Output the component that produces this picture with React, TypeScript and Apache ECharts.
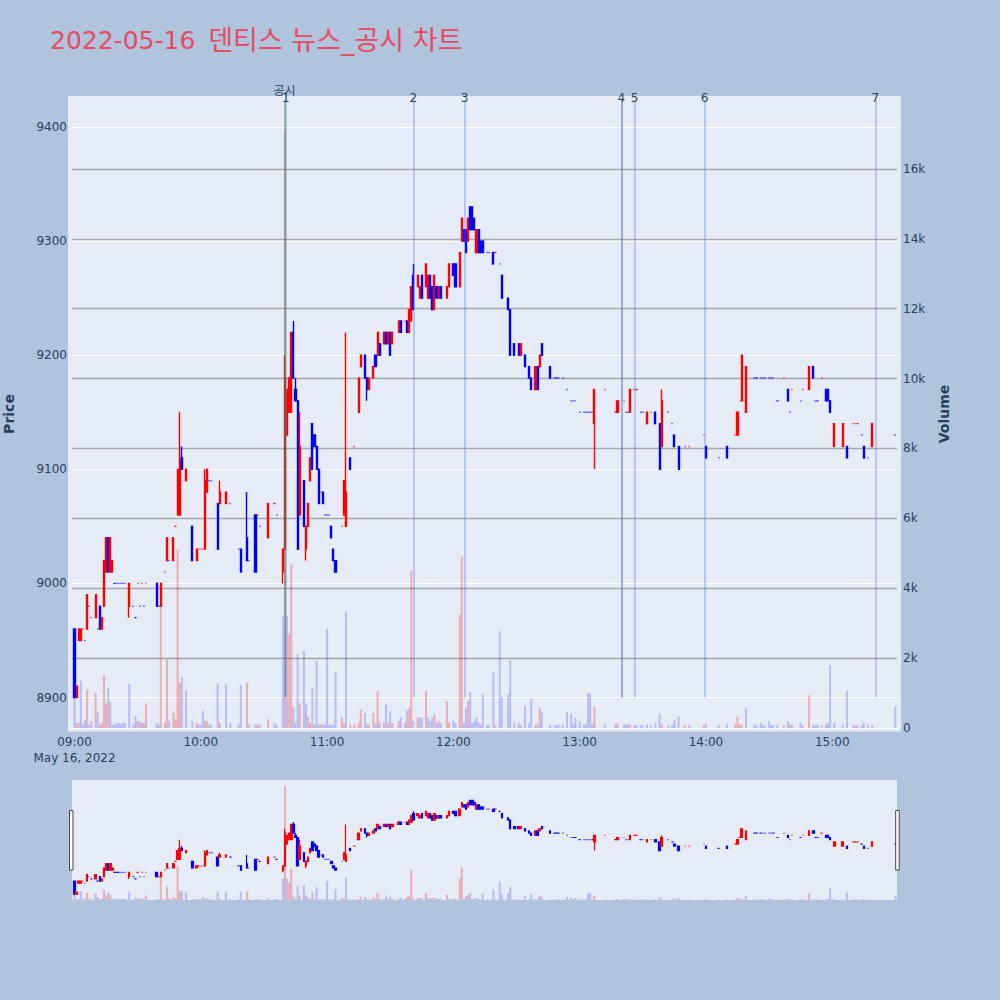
import { useEffect, useRef } from "react";
import * as echarts from "echarts";

const TITLE_DATE = "2022-05-16";
const TITLE_REST = "덴티스 뉴스_공시 차트";
const DATE_LABEL = "May 16, 2022";
const FONT = '"DejaVu Sans", "Noto Sans CJK KR", sans-serif';

// minute candles (HH:MM)
const times = [
  "09:00","09:01","09:02","09:03","09:04","09:05","09:06","09:07","09:08","09:10","09:11","09:12","09:13","09:14","09:15","09:16","09:17","09:18","09:19","09:20","09:21","09:22","09:23","09:24","09:26","09:28","09:29","09:30","09:31","09:32","09:33","09:34","09:39","09:40","09:41","09:43","09:44","09:45","09:47","09:48","09:49","09:50","09:51","09:53","09:56","09:58","09:59",
  "10:00","10:01","10:02","10:03","10:04","10:05","10:08","10:09","10:12","10:14","10:18","10:19","10:22","10:23","10:26","10:27","10:28","10:32","10:35","10:36","10:39","10:40","10:41","10:42","10:43","10:44","10:45","10:46","10:47","10:49","10:50","10:51","10:52","10:53","10:54","10:55","10:56","10:57","10:58","10:59",
  "11:00","11:01","11:02","11:03","11:04","11:07","11:08","11:09","11:11","11:13","11:15","11:16","11:18","11:19","11:20","11:22","11:23","11:24","11:25","11:27","11:28","11:29","11:30","11:31","11:34","11:35","11:37","11:38","11:39","11:40","11:41","11:43","11:44","11:45","11:47","11:48","11:49","11:50","11:51","11:52","11:53","11:54","11:57","11:58",
  "12:00","12:01","12:03","12:04","12:05","12:06","12:07","12:08","12:09","12:10","12:11","12:12","12:13","12:14","12:16","12:17","12:19","12:20","12:22","12:23","12:26","12:27","12:29","12:31","12:32","12:34","12:36","12:37","12:39","12:40","12:41","12:42","12:46","12:48","12:49","12:50","12:52","12:54","12:56","12:57","12:58",
  "13:00","13:02","13:03","13:04","13:05","13:06","13:07","13:12","13:17","13:18","13:21","13:22","13:23","13:24","13:26","13:27","13:29","13:30","13:32","13:34","13:36","13:38","13:39","13:42","13:44","13:45","13:47","13:50","13:52","13:59",
  "14:00","14:06","14:10","14:14","14:15","14:16","14:17","14:19","14:23","14:24","14:26","14:27","14:28","14:30","14:31","14:32","14:34","14:37","14:39","14:40","14:41","14:45","14:46","14:49","14:51","14:52","14:53","14:55","14:57","14:58","14:59",
  "15:01","15:05","15:07","15:10","15:11","15:12","15:14","15:15","15:17","15:19","15:30",
];

const opens = [
  8960,8900,8950,8950,8960,8950,8960,8980,8970,8970,8960,8980,8960,8980,9010,9040,9010,9010,9000,9000,9000,9000,9000,9000,8980,8980,8970,9000,8980,9000,8980,9000,9000,8980,8980,9010,9020,9020,9020,9050,9060,9060,9110,9090,9050,9020,9030,
  9030,9030,9030,9080,9090,9090,9070,9070,9070,9070,9030,9030,9040,9020,9060,9060,9050,9040,9070,9060,9010,9030,9130,9150,9150,9220,9170,9160,9060,9090,9030,9050,9090,9140,9130,9120,9100,9080,9080,9060,
  9060,9060,9050,9030,9020,9050,9060,9050,9110,9120,9150,9190,9200,9180,9170,9180,9200,9200,9210,9210,9220,9210,9220,9210,9220,9230,9230,9230,9220,9230,9270,9260,9250,9270,9260,9250,9270,9260,9240,9260,9250,9260,9250,9260,
  9280,9280,9260,9300,9310,9310,9300,9330,9330,9320,9290,9310,9300,9300,9290,9290,9290,9290,9280,9270,9250,9240,9210,9210,9200,9200,9190,9180,9170,9190,9190,9210,9190,9180,9180,9180,9180,9170,9160,9160,9160,
  9150,9150,9150,9150,9150,9150,9140,9170,9150,9150,9160,9150,9150,9150,9170,9170,9150,9150,9140,9150,9150,9140,9120,9150,9140,9130,9120,9120,9120,9130,
  9120,9110,9120,9130,9130,9160,9160,9150,9180,9180,9180,9180,9180,9180,9180,9180,9160,9180,9170,9150,9170,9160,9170,9170,9190,9160,9160,9180,9170,9170,9160,
  9120,9120,9120,9140,9140,9140,9130,9120,9110,9120,9130,
];

const closes = [
  8900,8910,8960,8960,8960,8950,8990,8980,8970,8990,8960,8960,8970,9020,9040,9010,9040,9020,9000,9000,9000,9000,9000,9000,9000,8980,8970,9000,8980,9000,8980,9000,8980,8980,9000,9010,9040,9020,9040,9050,9100,9110,9100,9100,9020,9030,9030,
  9030,9030,9090,9100,9090,9090,9030,9080,9080,9070,9030,9010,9020,9020,9010,9060,9050,9070,9070,9060,9030,9180,9170,9180,9220,9180,9160,9030,9120,9050,9050,9070,9110,9100,9120,9100,9070,9080,9070,9060,
  9060,9060,9040,9020,9010,9050,9090,9080,9100,9120,9180,9200,9180,9170,9180,9190,9190,9220,9200,9220,9210,9220,9200,9220,9230,9220,9230,9220,9240,9260,9240,9270,9260,9250,9280,9270,9250,9240,9270,9250,9260,9250,9260,9280,
  9270,9260,9290,9320,9300,9290,9320,9310,9310,9310,9310,9290,9290,9290,9290,9290,9280,9290,9280,9250,9240,9200,9200,9200,9210,9190,9180,9170,9190,9170,9200,9200,9180,9180,9180,9180,9180,9170,9160,9160,9160,
  9150,9150,9150,9150,9150,9150,9170,9170,9150,9160,9160,9150,9150,9170,9170,9170,9150,9150,9150,9150,9140,9100,9160,9150,9140,9120,9100,9120,9120,9130,
  9110,9110,9110,9130,9150,9160,9200,9190,9180,9180,9180,9180,9180,9180,9180,9180,9160,9180,9160,9150,9170,9160,9170,9190,9180,9160,9160,9180,9160,9160,9150,
  9140,9140,9110,9140,9140,9140,9130,9110,9110,9140,9130,
];

const lows = [
  8900,8900,8950,8950,8960,8950,8960,8980,8970,8970,8960,8960,8960,8980,9010,9010,9010,9010,9000,9000,9000,9000,9000,9000,8970,8980,8970,9000,8980,9000,8980,9000,8980,8980,8980,9010,9020,9020,9020,9050,9060,9060,9100,9090,9020,9020,9030,
  9030,9030,9030,9080,9090,9090,9030,9070,9070,9070,9030,9010,9020,9020,9010,9060,9050,9040,9070,9060,9000,9030,9130,9150,9150,9180,9160,9030,9060,9050,9020,9050,9090,9100,9120,9100,9070,9080,9070,9060,
  9060,9060,9040,9020,9010,9050,9060,9050,9100,9120,9150,9190,9180,9160,9170,9180,9190,9200,9200,9210,9210,9210,9200,9210,9220,9220,9230,9220,9220,9230,9240,9260,9250,9250,9260,9250,9250,9240,9240,9250,9250,9250,9250,9260,
  9270,9260,9260,9300,9300,9290,9300,9310,9310,9310,9290,9290,9290,9290,9290,9290,9280,9290,9280,9250,9240,9200,9200,9200,9200,9190,9180,9170,9170,9170,9190,9200,9180,9180,9180,9180,9180,9170,9160,9160,9160,
  9150,9150,9150,9150,9150,9150,9100,9170,9150,9150,9160,9150,9150,9150,9170,9170,9150,9150,9140,9150,9140,9100,9120,9150,9140,9120,9100,9120,9120,9130,
  9110,9110,9110,9130,9130,9160,9160,9150,9180,9180,9180,9180,9180,9180,9180,9180,9160,9180,9160,9150,9170,9160,9170,9170,9180,9160,9160,9180,9160,9160,9150,
  9120,9120,9110,9140,9140,9140,9130,9110,9110,9120,9130,
];

const highs = [
  8960,8910,8960,8960,8960,8950,8990,8980,8970,8990,8960,8980,8970,9020,9040,9040,9040,9020,9000,9000,9000,9000,9000,9000,9000,8980,8970,9000,8980,9000,8980,9000,9000,8980,9000,9010,9040,9020,9040,9050,9100,9150,9120,9100,9050,9030,9030,
  9030,9030,9100,9100,9090,9090,9070,9090,9080,9070,9030,9030,9080,9020,9060,9060,9050,9070,9070,9060,9030,9200,9170,9180,9220,9230,9180,9160,9150,9090,9050,9070,9110,9140,9130,9120,9100,9080,9080,9060,
  9060,9060,9050,9030,9020,9050,9090,9220,9110,9120,9180,9200,9200,9180,9180,9190,9200,9220,9210,9220,9220,9220,9220,9220,9230,9230,9230,9230,9240,9260,9280,9270,9260,9270,9280,9270,9270,9260,9270,9260,9260,9260,9260,9280,
  9280,9280,9290,9320,9310,9310,9320,9330,9330,9320,9310,9310,9300,9300,9290,9290,9290,9290,9280,9270,9250,9240,9210,9210,9210,9200,9190,9180,9190,9190,9200,9210,9190,9180,9180,9180,9180,9170,9160,9160,9160,
  9150,9150,9150,9150,9150,9150,9170,9170,9150,9160,9160,9150,9150,9170,9170,9170,9150,9150,9150,9150,9150,9140,9170,9150,9140,9130,9120,9120,9120,9130,
  9120,9110,9120,9130,9150,9160,9200,9190,9180,9180,9180,9180,9180,9180,9180,9180,9160,9180,9170,9150,9170,9160,9170,9190,9190,9160,9160,9180,9170,9170,9160,
  9140,9140,9120,9140,9140,9140,9130,9120,9110,9140,9130,
];

const volumes = [
  890,150,150,1350,100,230,1100,100,200,1000,440,100,150,1500,700,1160,740,100,100,150,150,120,150,150,1260,100,340,200,200,150,150,700,150,100,3500,150,1970,200,440,250,5100,1300,1440,1080,200,150,100,
  100,490,200,200,100,100,1280,150,1240,150,100,1240,1300,100,100,100,100,250,150,100,3200,17100,3200,2700,4680,600,150,2100,700,2200,680,320,150,1130,100,1920,100,100,100,100,
  2830,100,100,100,1600,290,150,3330,100,100,150,530,430,100,100,430,150,1060,150,150,680,150,480,150,200,300,150,500,580,4500,200,300,300,300,1060,300,200,300,400,150,200,150,760,150,
  200,150,3250,4900,150,580,760,1030,150,200,300,150,100,960,80,80,1590,80,2770,900,960,1940,150,150,80,630,150,840,100,100,580,460,80,80,80,100,80,460,400,120,300,
  200,100,100,1000,980,100,600,100,100,150,100,100,100,100,80,80,80,80,100,80,150,420,100,80,80,230,320,80,80,80,
  120,80,100,100,320,100,100,560,100,80,150,80,80,200,80,80,100,80,200,100,80,150,80,940,80,80,100,80,100,150,1800,
  150,100,1070,80,80,80,80,150,100,80,630,
];

// disclosure (공시) markers
const noticeTimes = ["10:40:24", "11:41:00", "12:05:18", "13:19:48", "13:19:48", "13:26:06", "13:59:18", "15:20:30"];
const noticeLabels = ["1", "2", "3", "4", "", "5", "6", "7"];
const firstNoticeTime = "10:39:46";
const firstNoticeLabel = "공시";

// axis ranges
const PRICE_MIN = 8873.27;
const PRICE_MAX = 9423.66;
const LINE_BASE = 8900;
const VOL_MAX = 17974;
const X_START = "08:59:17";
const X_END = "15:30:18";

const ts = (hm: string) => {
  const [h, m, s] = hm.split(":").map(Number);
  return Date.UTC(2022, 4, 16, h, m, s || 0);
};
const pad = (n: number) => (n < 10 ? "0" + n : "" + n);

export default function App() {
  const ref = useRef<HTMLDivElement>(null);

  useEffect(() => {
    if (!ref.current) return;
    const chart = echarts.init(ref.current, null, { renderer: "svg" });

    const UP = "#ff0000";
    const DOWN = "#0000ff";
    let inc = true;
    let prevC: number | null = null;
    const candleData = times.map((t, i) => {
      const o = opens[i];
      const c = closes[i];
      if (o === c) {
        if (prevC !== null && c !== prevC) inc = c > prevC;
      } else inc = c > o;
      prevC = c;
      const col = inc ? UP : DOWN;
      return {
        value: [ts(t), o, c, lows[i], highs[i]],
        itemStyle: { color: col, color0: col, borderColor: col, borderColor0: col, borderColorDoji: col },
      };
    });

    const volData = times.map((t, i) => {
      const up = i > 0 && closes[i] > closes[i - 1];
      return {
        value: [ts(t), volumes[i]],
        itemStyle: { color: up ? "rgba(255,0,0,0.27)" : "rgba(0,0,255,0.2)" },
      };
    });

    const labelBase = { show: true, position: "end", color: "#2a3f5f", fontSize: 12, fontFamily: FONT };
    const lineData: any[] = [
      [
        {
          coord: [ts(firstNoticeTime), LINE_BASE],
          lineStyle: { color: "rgba(40,160,40,0.45)", width: 2, type: "solid" },
          label: { ...labelBase, formatter: firstNoticeLabel, distance: 3.5 },
        },
        { coord: [ts(firstNoticeTime), PRICE_MAX] },
      ],
      ...noticeTimes.map((t, i) => [
        {
          coord: [ts(t), LINE_BASE],
          lineStyle: { color: "rgba(90,110,230,0.32)", width: 2, type: "solid" },
          label: { ...labelBase, formatter: noticeLabels[i] || " ", distance: -4 },
        },
        { coord: [ts(t), PRICE_MAX] },
      ]),
    ];

    const axisText = { color: "#2a3f5f", fontSize: 12, fontFamily: FONT };
    const nameText = { color: "#2a3f5f", fontSize: 14, fontWeight: "bold", fontFamily: FONT };
    const titleColor = "#e84a5f";

    chart.setOption({
      animation: false,
      useUTC: true,
      backgroundColor: "#b0c4de",
      textStyle: { fontFamily: FONT },
      title: {
        text: "{a|" + TITLE_DATE + " }{b|" + TITLE_REST + "}",
        left: 45,
        top: 22,
        textStyle: {
          color: titleColor,
          fontSize: 25,
          fontWeight: "normal",
          fontFamily: FONT,
          rich: {
            a: { color: titleColor, fontSize: 25, fontFamily: FONT },
            b: { color: titleColor, fontSize: 27, fontFamily: FONT, padding: [0, 0, 0, 5] },
          },
        },
      },
      grid: [
        { left: 72, right: 103, top: 100, height: 628, containLabel: false, outerBoundsMode: "none" },
        { left: 72, right: 103, top: 780, height: 120, containLabel: false, outerBoundsMode: "none" },
      ],
      xAxis: [
        {
          type: "time",
          gridIndex: 0,
          min: ts(X_START),
          max: ts(X_END),
          minInterval: 3600000,
          maxInterval: 3600000,
          axisLine: { show: true, onZero: false, lineStyle: { color: "#ffffff", width: 1 } },
          axisTick: { show: false },
          splitLine: { show: false },
          axisLabel: {
            ...axisText,
            margin: 6,
            lineHeight: 16,
            hideOverlap: false,
            formatter: (v: number) => {
              if (v % 3600000 !== 0) return "";
              const d = new Date(v);
              const s = pad(d.getUTCHours()) + ":" + pad(d.getUTCMinutes());
              return d.getUTCHours() === 9 ? s + "\n" + DATE_LABEL : s;
            },
          },
        },
        { type: "time", gridIndex: 1, min: ts(X_START), max: ts(X_END), show: false },
      ],
      yAxis: [
        {
          type: "value",
          gridIndex: 0,
          min: PRICE_MIN,
          max: PRICE_MAX,
          position: "left",
          name: "Price",
          nameLocation: "middle",
          nameRotate: 90,
          nameGap: 56,
          nameTextStyle: nameText,
          axisLine: { show: false },
          axisTick: { show: false },
          axisLabel: { ...axisText, margin: 5, formatter: (v: number) => (v % 100 === 0 ? String(v) : "") },
          splitLine: { show: true, showMinLine: false, showMaxLine: false, lineStyle: { color: "#ffffff", width: 1 } },
        },
        {
          type: "value",
          gridIndex: 0,
          min: 0,
          max: VOL_MAX,
          interval: 2000,
          position: "right",
          name: "Volume",
          nameLocation: "middle",
          nameRotate: 90,
          nameGap: 40,
          nameTextStyle: nameText,
          axisLine: { show: false },
          axisTick: { show: false },
          axisLabel: {
            ...axisText,
            margin: 6,
            formatter: (v: number) => (v === 0 ? "0" : v % 2000 === 0 ? v / 1000 + "k" : ""),
          },
          splitLine: { show: true, showMinLine: false, showMaxLine: false, lineStyle: { color: "#a8a8a8", width: 1.3 } },
        },
        { type: "value", gridIndex: 1, min: PRICE_MIN, max: PRICE_MAX, show: false, splitLine: { show: false } },
        { type: "value", gridIndex: 1, min: 0, max: VOL_MAX, show: false, splitLine: { show: false } },
      ],
      series: [
        {
          type: "bar",
          name: "Volume",
          xAxisIndex: 0,
          yAxisIndex: 1,
          data: volData,
          barWidth: 2,
          z: 2,
          large: false,
        },
        {
          type: "candlestick",
          name: "Price",
          xAxisIndex: 0,
          yAxisIndex: 0,
          data: candleData,
          barWidth: 1.6,
          large: false,
          z: 3,
          itemStyle: { borderWidth: 1.4 },
          markLine: {
            silent: true,
            animation: false,
            symbol: ["none", "none"],
            z: 4,
            data: lineData,
          },
        },
        {
          type: "bar",
          xAxisIndex: 1,
          yAxisIndex: 3,
          data: volData,
          barWidth: 2,
          z: 2,
          large: false,
        },
        {
          type: "candlestick",
          xAxisIndex: 1,
          yAxisIndex: 2,
          data: candleData,
          barWidth: 2,
          large: false,
          z: 3,
          itemStyle: { borderWidth: 1.2 },
        },
      ],
      graphic: [
        { type: "rect", z: -10, silent: true, shape: { x: 68, y: 96, width: 833, height: 635.5 }, style: { fill: "#e5ecf6" } },
        { type: "rect", z: -10, silent: true, shape: { x: 72, y: 780, width: 825, height: 120 }, style: { fill: "#e5ecf6" } },
        { type: "rect", z: 10, silent: true, shape: { x: 69.5, y: 810.5, width: 3.5, height: 59.5 }, style: { fill: "#ffffff", stroke: "#444444", lineWidth: 1 } },
        { type: "rect", z: 10, silent: true, shape: { x: 895.7, y: 810.5, width: 3.5, height: 59.5 }, style: { fill: "#ffffff", stroke: "#444444", lineWidth: 1 } },
      ],
    });

    return () => chart.dispose();
  }, []);

  return <div ref={ref} style={{ position: "fixed", left: 0, top: 0, width: 1000, height: 1000 }} />;
}
